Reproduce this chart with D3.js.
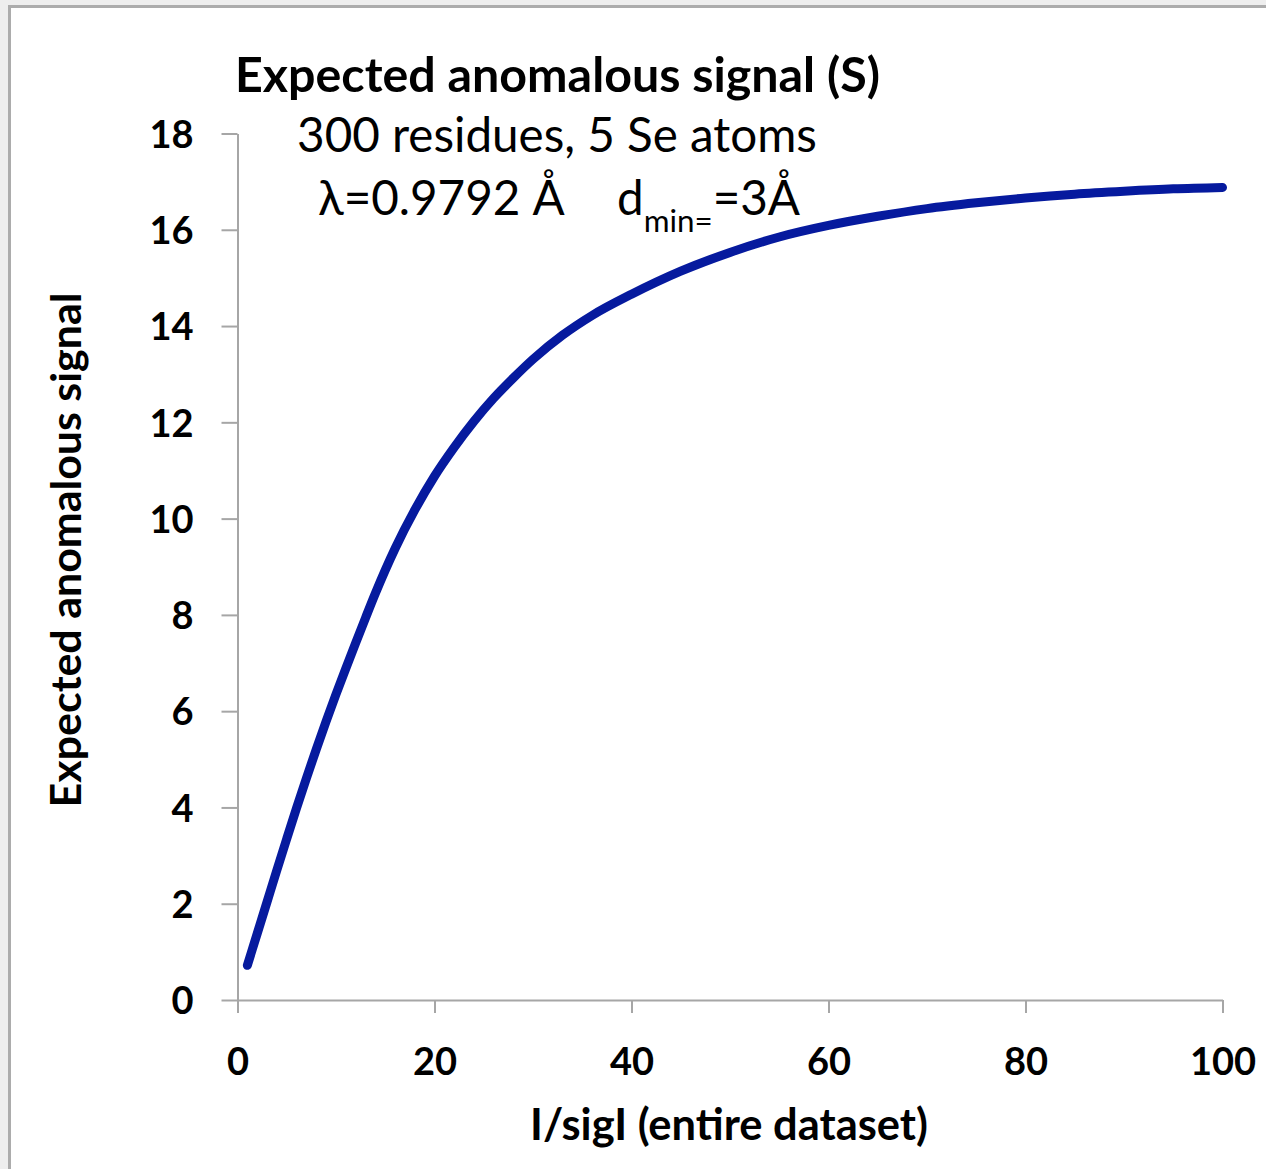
<!DOCTYPE html>
<html>
<head>
<meta charset="utf-8">
<script src="https://cdn.jsdelivr.net/npm/d3@7"></script>
<style>
  html, body { margin: 0; padding: 0; background: #eeeeee; }
  svg { display: block; }
  text { font-family: Lato, "Open Sans", sans-serif; fill: #000; }
</style>
</head>
<body>
<svg id="chart" width="1266" height="1169"></svg>
<script>
// I/sigI values and the expected anomalous signal
var isig = [1, 2, 3, 4, 5, 6, 7, 8, 9, 10, 11, 12, 13, 14, 16, 18, 20, 22, 24, 26, 28, 30,
            33, 36, 40, 45, 50, 55, 60, 65, 70, 75, 80, 85, 90, 95, 100];
var signal = [0.72, 1.38, 2.04, 2.70, 3.35, 3.99, 4.61, 5.21, 5.79, 6.35, 6.89, 7.42, 7.94, 8.45,
              9.38, 10.18, 10.88, 11.48, 12.02, 12.50, 12.92, 13.31, 13.81, 14.22, 14.66,
              15.14, 15.53, 15.85, 16.09, 16.28, 16.44, 16.56, 16.66, 16.74, 16.80, 16.85, 16.88];
var xTicks = [0, 20, 40, 60, 80, 100];
var yTicks = [0, 2, 4, 6, 8, 10, 12, 14, 16, 18];

var title = 'Expected anomalous signal (S)';
var subtitle = '300 residues, 5 Se atoms';
var xTitle = 'I/sigI (entire dataset)';
var yTitle = 'Expected anomalous signal';

var svg = d3.select('#chart');

// white chart panel with grey frame (only top/left edges visible)
svg.append('rect')
    .attr('x', 9.5).attr('y', 6.5)
    .attr('width', 1400).attr('height', 1300)
    .attr('fill', '#fff')
    .attr('stroke', '#acacac')
    .attr('stroke-width', 3);

var x = d3.scaleLinear().domain([0, 100]).range([237.5, 1222.5]);
var y = d3.scaleLinear().domain([0, 18]).range([1000, 133.5]);

// scale a text's font-size so its rendered width matches target
function fit(sel, target) {
    var base = 40;
    sel.style('font-size', base + 'px');
    var w = sel.node().getComputedTextLength();
    var size = base * target / w;
    sel.style('font-size', size + 'px');
    return size;
}

var axisColor = '#a6a6a6';

var gx = svg.append('g')
    .attr('transform', 'translate(0,' + y(0) + ')')
    .call(d3.axisBottom(x).tickValues(xTicks).tickSize(13).tickSizeOuter(0).tickFormat(d3.format('d')));
var gy = svg.append('g')
    .attr('transform', 'translate(' + x(0) + ',0)')
    .call(d3.axisLeft(y).tickValues(yTicks).tickSize(16).tickSizeOuter(0).tickFormat(d3.format('d')));

[gx, gy].forEach(function(g) {
    g.selectAll('path, line').attr('stroke', axisColor).attr('stroke-width', 2);
    g.selectAll('text').attr('fill', '#000').attr('font-family', null)
        .style('font-weight', 'bold').style('font-size', '38px');
});
gx.selectAll('text').attr('dy', null).attr('y', 75);
gy.selectAll('text').attr('dy', '0.36em').attr('x', -44);

// curve
var pts = isig.map(function(d, i) { return [d, signal[i]]; });
svg.append('path')
    .datum(pts)
    .attr('fill', 'none')
    .attr('stroke', '#061a9e')
    .attr('stroke-width', 9)
    .attr('stroke-linecap', 'round')
    .attr('stroke-linejoin', 'round')
    .attr('d', d3.line()
        .x(function(d) { return x(d[0]); })
        .y(function(d) { return y(d[1]); })
        .curve(d3.curveMonotoneX));

// titles
var t = svg.append('text').attr('x', 557.5).attr('y', 92)
    .attr('text-anchor', 'middle').style('font-weight', 'bold').text(title);
fit(t, 645);

var s1 = svg.append('text').attr('x', 557).attr('y', 152)
    .attr('text-anchor', 'middle').text(subtitle);
var subSize = fit(s1, 520);

var s2 = svg.append('text').attr('x', 318).attr('y', 215).style('font-size', subSize + 'px');
s2.append('tspan').text('\u03bb=0.9792 \u00c5');
s2.append('tspan').attr('x', 617).text('d');
s2.append('tspan').attr('dy', 17).style('font-size', (subSize * 0.66) + 'px').text('min=');
s2.append('tspan').attr('dy', -17).text('=3\u00c5');

var xt = svg.append('text').attr('x', 729).attr('y', 1140)
    .attr('text-anchor', 'middle').style('font-weight', 'bold').text(xTitle);
fit(xt, 398);

var yt = svg.append('text')
    .attr('transform', 'translate(81,550) rotate(-90)')
    .attr('text-anchor', 'middle').style('font-weight', 'bold').text(yTitle);
fit(yt, 515);
</script>
</body>
</html>
